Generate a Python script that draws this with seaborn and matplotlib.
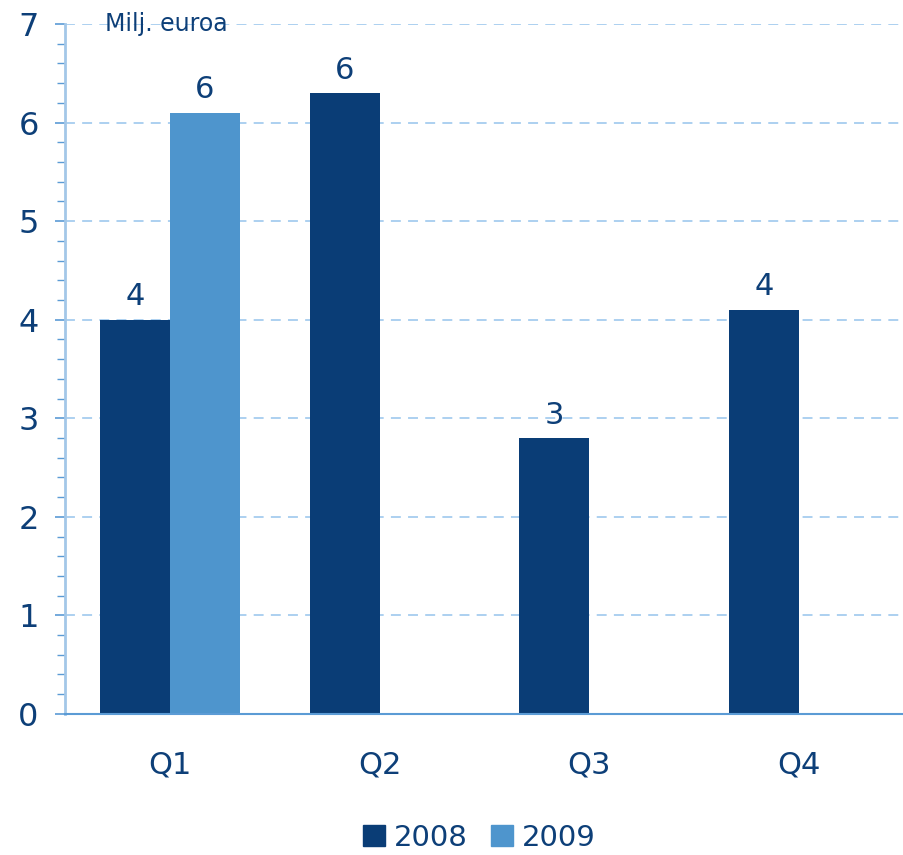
import pandas as pd
import seaborn as sns
import matplotlib.pyplot as plt
from matplotlib.ticker import AutoMinorLocator, MultipleLocator
from matplotlib.patches import Patch

sns.set_theme(style="white")
plt.rcParams["font.family"] = ["DejaVu Sans"]

quarters = ["Q1", "Q2", "Q3", "Q4"]
years = ["2008", "2009"]
values_2008 = [4.0, 6.3, 2.8, 4.1]
values_2009 = [6.1, None, None, None]
labels_2008 = ["4", "6", "3", "4"]
labels_2009 = ["6", "", "", ""]

dark = "#0a3d76"
light = "#4e95cd"
text_col = "#0d3f78"

df = pd.DataFrame({
    "quarter": quarters * 2,
    "year": ["2008"] * 4 + ["2009"] * 4,
    "value": values_2008 + values_2009,
})

fig = plt.figure(figsize=(9.04, 8.55), dpi=100)
ax = fig.add_axes([0.072, 0.165, 0.928, 0.807])
sns.barplot(ax=ax, data=df, x="quarter", y="value", hue="year", hue_order=years,
            palette=[dark, light], width=2/3, saturation=1, legend=False,
            linewidth=0, edgecolor="none")

ax.set_xlim(-0.5, 3.5)
ax.set_ylim(0, 7)
ax.yaxis.set_major_locator(MultipleLocator(1))
ax.yaxis.set_minor_locator(AutoMinorLocator(5))
ax.grid(axis="y", which="major", color="#a6cdef", linestyle=(0, (5.5, 4)), linewidth=1.3)
ax.set_axisbelow(True)

for s in ["top", "right"]:
    ax.spines[s].set_visible(False)
ax.spines["left"].set_color("#a3c7e8")
ax.spines["left"].set_linewidth(2)
ax.spines["bottom"].set_color("#5b9bd5")
ax.spines["bottom"].set_linewidth(1.5)

ax.tick_params(axis="y", which="major", left=True, length=7, width=1.2, color="#5b9bd5",
               labelsize=23, labelcolor=text_col, pad=12)
ax.tick_params(axis="y", which="minor", left=True, length=5.5, width=1, color="#5b9bd5")
ax.tick_params(axis="x", bottom=False, labelsize=22, labelcolor=text_col, pad=20)
ax.set(xlabel="", ylabel="")

# value labels, skipping the empty 2009 slots
for cont, labs, vals in zip(ax.containers, [labels_2008, labels_2009], [values_2008, values_2009]):
    bars = [b for b in cont if b is not None]
    labs = [l for l, v in zip(labs, vals) if v is not None]
    for bar, lab in zip(bars, labs):
        ax.annotate(lab, (bar.get_x() + bar.get_width() / 2, bar.get_height()),
                    xytext=(0, 6), textcoords="offset points", ha="center", va="bottom",
                    fontsize=22, color=text_col)

ax.text(0.048, 1.0, "Milj. euroa", transform=ax.transAxes, fontsize=17,
        color=text_col, va="center", ha="left")

handles = [Patch(color=dark, label="2008"), Patch(color=light, label="2009")]
fig.legend(handles=handles, loc="center", bbox_to_anchor=(0.53, 0.02), ncol=2,
           frameon=False, fontsize=21, labelcolor=text_col, handlelength=0.75,
           handleheight=0.75, handletextpad=0.3, columnspacing=0.8)

fig.savefig("out.png", dpi=100)
